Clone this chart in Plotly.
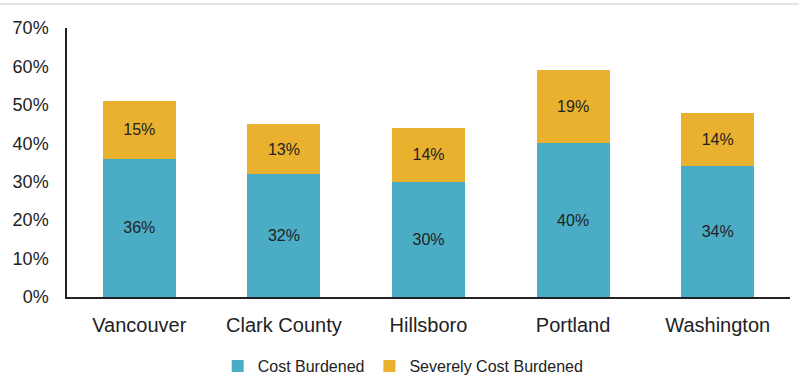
import plotly.graph_objects as go

places = ["Vancouver", "Clark County", "Hillsboro", "Portland", "Washington"]
cost_burdened = [36, 32, 30, 40, 34]
severely_cost_burdened = [15, 13, 14, 19, 14]
y_ticks = [0, 10, 20, 30, 40, 50, 60, 70]

TEAL = "#4BACC6"
GOLD = "#EAB12F"
FONT = "Liberation Sans, Arial, sans-serif"

fig = go.Figure()
for name, vals, color in [
    ("Cost Burdened", cost_burdened, TEAL),
    ("Severely Cost Burdened", severely_cost_burdened, GOLD),
]:
    fig.add_trace(go.Bar(
        x=places,
        y=[v / 100 for v in vals],
        name=name,
        marker=dict(color=color, line=dict(width=0)),
        text=[f"{v}%" for v in vals],
        textposition="inside",
        insidetextanchor="middle",
        textangle=0,
        textfont=dict(family=FONT, size=16, color="#222222"),
    ))

fig.update_layout(
    barmode="stack",
    bargap=0.495,
    width=799,
    height=392,
    margin=dict(l=67, r=9, t=28, b=95),
    plot_bgcolor="white",
    paper_bgcolor="white",
    font=dict(family=FONT, color="#222222"),
    showlegend=True,
    legend=dict(
        orientation="h",
        x=0.465, xanchor="center",
        y=-0.2565, yanchor="middle",
        font=dict(family=FONT, size=16, color="#222222"),
        itemwidth=30,
        traceorder="normal",
    ),
    xaxis=dict(
        showline=True, linecolor="#222222", linewidth=1.5,
        ticks="", tickfont=dict(family=FONT, size=20, color="#222222"),
        showgrid=False,
    ),
    yaxis=dict(
        range=[0, 0.7],
        tickvals=[t / 100 for t in y_ticks],
        ticktext=[f"{t}%" for t in y_ticks],
        showline=True, linecolor="#222222", linewidth=1.5,
        ticks="", showgrid=False, zeroline=False,
        tickfont=dict(family=FONT, size=18, color="#222222"),
        ticklabelstandoff=13,
    ),
)
fig.update_xaxes(ticklabelstandoff=9)

# thin rule along the top edge of the page
fig.add_shape(type="line", xref="paper", yref="paper",
              x0=-0.2, x1=1.1, y0=1.0 + 24 / 269, y1=1.0 + 24 / 269,
              line=dict(color="#DDDDDD", width=1.5))

fig.write_html("out.html")
